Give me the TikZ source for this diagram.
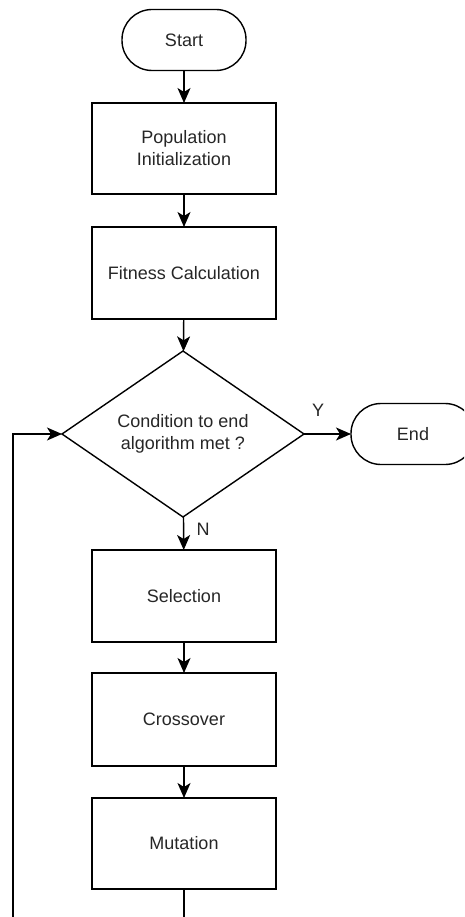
\documentclass[tikz,border=0pt]{standalone}
\usepackage{fontspec}
\setmainfont{Liberation Sans}
\usetikzlibrary{shapes.geometric,arrows.meta}
\begin{document}
\begin{tikzpicture}[x=1pt, y=-1pt,
		every node/.style={font=\fontsize{18}{22}\selectfont, text=black!85},
		box/.style={draw, line width=1.4pt, inner sep=0pt, outer sep=0pt, minimum width=184pt, minimum height=92pt, align=center},
		term/.style={draw, line width=1.4pt, rounded corners=30pt, inner sep=0pt, outer sep=0pt, minimum width=124pt, minimum height=61pt},
		decide/.style={draw, line width=1.4pt, diamond, aspect=1.46, inner sep=0pt, outer sep=0pt, minimum width=242pt, minimum height=166pt, align=center},
		link/.style={-{Stealth[length=15pt,width=13pt,inset=4pt]}, line width=1.4pt}]
				\useasboundingbox (0,0) rectangle (464,917);
				\clip (0,0) rectangle (464,917);
				\node[term] (start) at (184, 40) {Start};
				\node[box, minimum height=91pt] (pop) at (184, 148.5) {Population\\Initialization};
				\node[box] (fit) at (184, 273) {Fitness Calculation};
				\node[decide] (cond) at (183, 434) {Condition to end\\algorithm met ?};
				\node[term] (end) at (413, 434) {End};
				\node[box] (sel) at (184, 596) {Selection};
				\node[box, minimum height=93pt] (cro) at (184, 719.5) {Crossover};
				\node[box, minimum height=91pt] (mut) at (184, 843.5) {Mutation};
				\node (yes) at (318, 410) {Y};
				\node (no) at (203, 529) {N};
				\coordinate (loopR) at (184, 940);
				\coordinate (loopL) at (13, 940);
				\draw[link] (start) -- (pop);
				\draw[link] (pop) -- (fit);
				\draw[link] (fit) -- (cond);
				\draw[link] (cond) -- (end);
				\draw[link] (cond) -- (sel);
				\draw[link] (sel) -- (cro);
				\draw[link] (cro) -- (mut);
				\draw[link] (mut) -- (loopR) -- (loopL) |- (cond.west);
			\end{tikzpicture}
\end{document}
